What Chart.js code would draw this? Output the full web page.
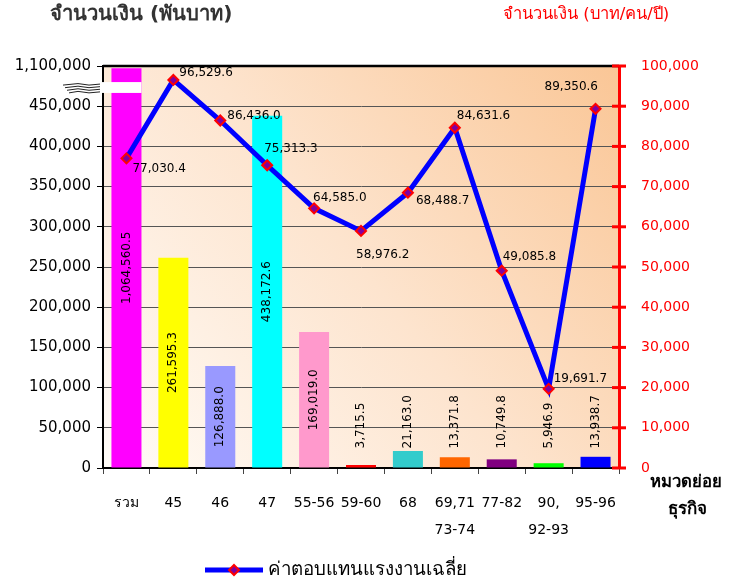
<!DOCTYPE html>
<html lang="th">
<head>
  <meta charset="UTF-8">
  <title>ค่าตอบแทนแรงงาน</title>
  <script src="https://cdn.jsdelivr.net/npm/chart.js"></script>
  <style>
    html, body { margin: 0; padding: 0; background: #fff; }
    #wrap { width: 735px; height: 581px; position: relative; }
  </style>
</head>
<body>
  <div id="wrap"><canvas id="chart" width="735" height="581"></canvas></div>

  <script>
    // data
    const categories = ['รวม', '45', '46', '47', '55-56', '59-60', '68', ['69,71', '73-74'], '77-82', ['90,', '92-93'], '95-96'];
    const barValues = [1064560.5, 261595.3, 126888.0, 438172.6, 169019.0, 3715.5, 21163.0, 13371.8, 10749.8, 5946.9, 13938.7];
    const barColors = ['#FF00FF', '#FFFF00', '#9999FF', '#00FFFF', '#FF99CC', '#FF0000', '#33CCCC', '#FF6600', '#800080', '#00FF00', '#0000FF'];
    const lineValues = [77030.4, 96529.6, 86436.0, 75313.3, 64585.0, 58976.2, 68488.7, 84631.6, 49085.8, 19691.7, 89350.6];
    const lineLabel = 'ค่าตอบแทนแรงงานเฉลี่ย';

    // broken left axis: 450,000 .. 1,100,000 squeezed into the last step
    const breakFrom = 450000;
    const breakTop = 1100000;
    const step = 50000;
    const brk = v => v <= breakFrom ? v : breakFrom + (v - breakFrom) / (breakTop - breakFrom) * step;

    const fmt = (v, d) => v.toLocaleString('en-US', { minimumFractionDigits: d, maximumFractionDigits: d });

    // where each line label sits relative to its point (dx, dy)
    const lineLabelOffsets = [[6, 11], [6, -7], [7, -5], [-3, -16], [-1, -10], [-5, 24], [8, 8], [2, -12], [1, -14], [5, -10], [-51, -22]];

    const FONT = '"DejaVu Sans", "Noto Sans", sans-serif';

    // draw text scaled so that it spans about `w` pixels
    function fitText(ctx, txt, x, y, w, weight) {
      ctx.font = weight + ' 20px ' + FONT;
      const size = 20 * w / ctx.measureText(txt).width;
      ctx.font = weight + ' ' + size.toFixed(1) + 'px ' + FONT;
      ctx.fillText(txt, x, y);
    }

    const decor = {
      id: 'decor',
      beforeDraw(chart) {
        const { ctx, chartArea: a } = chart;
        const g = ctx.createLinearGradient(a.left, a.bottom, a.right, a.top);
        g.addColorStop(0, '#FFFCF8');
        g.addColorStop(0.5, '#FDE4CE');
        g.addColorStop(1, '#FAC696');
        ctx.save();
        ctx.fillStyle = g;
        ctx.fillRect(a.left, a.top, a.right - a.left, a.bottom - a.top);
        ctx.restore();
      },
      afterDatasetsDraw(chart) {
        const { ctx, chartArea: a, scales } = chart;
        const yL = scales.y, y2 = scales.y2;
        ctx.save();

        // top border
        ctx.strokeStyle = '#000';
        ctx.lineWidth = 2.5;
        ctx.beginPath();
        ctx.moveTo(a.left, a.top);
        ctx.lineTo(a.right, a.top);
        ctx.stroke();

        // axis break on the total bar
        const barMeta = chart.getDatasetMeta(0);
        const b0 = barMeta.data[0];
        const yb1 = yL.getPixelForValue(480000);
        const yb2 = yL.getPixelForValue(466500);
        ctx.fillStyle = '#fff';
        ctx.fillRect(a.left - 2, yb1, b0.x + b0.width / 2 - a.left + 2, yb2 - yb1);
        ctx.strokeStyle = '#222';
        ctx.lineWidth = 1;
        for (let k = 0; k < 4; k++) {
          const yy = yb1 + 2 + k * 2.6;
          ctx.beginPath();
          ctx.moveTo(a.left - 40 + k * 2, yy + 1);
          ctx.lineTo(a.left - 25, yy - 0.5);
          ctx.lineTo(a.left - 14, yy + 1);
          ctx.lineTo(a.left - 3, yy);
          ctx.stroke();
        }

        // red cross ticks on the right axis
        ctx.strokeStyle = '#FF0000';
        ctx.lineWidth = 3;
        y2.ticks.forEach(t => {
          const yy = y2.getPixelForValue(t.value);
          ctx.beginPath();
          ctx.moveTo(a.right - 7, yy);
          ctx.lineTo(a.right + 7, yy);
          ctx.stroke();
        });

        // bar value labels, rotated
        ctx.fillStyle = '#000';
        ctx.font = '12px ' + FONT;
        ctx.textBaseline = 'middle';
        barMeta.data.forEach((bar, i) => {
          const txt = fmt(barValues[i], 1);
          const w = ctx.measureText(txt).width;
          const h = bar.base - bar.y;
          let cy;
          if (h > w + 8) {
            cy = (bar.y + bar.base) / 2;
          } else {
            const bottom = Math.min(bar.y - 2, bar.base - 19);
            cy = bottom - w / 2;
          }
          ctx.save();
          ctx.translate(bar.x, cy);
          ctx.rotate(-Math.PI / 2);
          ctx.textAlign = 'center';
          ctx.fillText(txt, 0, 0);
          ctx.restore();
        });

        // line value labels
        const lineMeta = chart.getDatasetMeta(1);
        ctx.textAlign = 'left';
        lineMeta.data.forEach((p, i) => {
          const [dx, dy] = lineLabelOffsets[i];
          ctx.fillText(fmt(lineValues[i], 1), p.x + dx, p.y + dy);
        });

        // axis titles
        ctx.textBaseline = 'middle';
        ctx.fillStyle = '#333';
        fitText(ctx, 'จำนวนเงิน (พันบาท)', 50, 15, 184, 'bold');
        ctx.fillStyle = '#FF0000';
        fitText(ctx, 'จำนวนเงิน (บาท/คน/ปี)', 503, 15, 170, 'normal');

        ctx.fillStyle = '#000';
        fitText(ctx, 'หมวดย่อย', 650, 483, 72, 'bold');
        fitText(ctx, 'ธุรกิจ', 668, 510, 40, 'bold');

        // legend
        const ly = 570;
        ctx.strokeStyle = '#0000FF';
        ctx.lineWidth = 5;
        ctx.beginPath();
        ctx.moveTo(205, ly);
        ctx.lineTo(263, ly);
        ctx.stroke();
        ctx.fillStyle = '#8000A0';
        ctx.strokeStyle = '#FF0000';
        ctx.lineWidth = 2;
        ctx.beginPath();
        ctx.moveTo(234, ly - 5);
        ctx.lineTo(239, ly);
        ctx.lineTo(234, ly + 5);
        ctx.lineTo(229, ly);
        ctx.closePath();
        ctx.fill();
        ctx.stroke();
        ctx.fillStyle = '#000';
        fitText(ctx, lineLabel, 268, ly, 202, 'normal');

        ctx.restore();
      }
    };

    new Chart(document.getElementById('chart'), {
      data: {
        labels: categories,
        datasets: [
          {
            type: 'bar',
            label: 'จำนวนเงิน',
            data: barValues.map(brk),
            backgroundColor: barColors,
            categoryPercentage: 1,
            barPercentage: 0.64,
            yAxisID: 'y',
            order: 2
          },
          {
            type: 'line',
            label: lineLabel,
            data: lineValues,
            borderColor: '#0000FF',
            borderWidth: 5,
            pointStyle: 'rectRot',
            pointRadius: 5,
            pointBackgroundColor: '#8000A0',
            pointBorderColor: '#FF0000',
            pointBorderWidth: 2,
            tension: 0,
            yAxisID: 'y2',
            order: 1
          }
        ]
      },
      options: {
        responsive: false,
        animation: false,
        layout: { padding: { top: 66, left: 0, right: 0, bottom: 0 } },
        plugins: {
          legend: { display: false },
          tooltip: { enabled: false }
        },
        scales: {
          x: {
            offset: true,
            grid: { drawOnChartArea: false, tickLength: 6, color: '#444', offset: true },
            border: { color: '#000', width: 2 },
            ticks: {
              color: '#000',
              font: { family: FONT, size: 14, lineHeight: 1.9 },
              padding: 16,
              maxRotation: 0,
              autoSkip: false
            },
            afterFit: s => { s.height = 113; }
          },
          y: {
            position: 'left',
            min: 0,
            max: 500000,
            grid: {
              color: c => (c.tick.value === 0 || c.tick.value === 500000) ? 'rgba(0,0,0,0)' : '#555',
              borderDash: [2, 2],
              tickColor: '#000',
              tickBorderDash: [],
              tickLength: 6
            },
            border: { color: '#000', width: 2 },
            ticks: {
              stepSize: step,
              color: '#000',
              font: { family: FONT, size: 15 },
              padding: 6,
              callback: v => v === 500000 ? fmt(breakTop, 0) : fmt(v, 0)
            },
            afterFit: s => { s.width = 103; }
          },
          y2: {
            position: 'right',
            min: 0,
            max: 100000,
            grid: { drawOnChartArea: false, drawTicks: false },
            border: { color: '#FF0000', width: 3 },
            ticks: {
              stepSize: 10000,
              color: '#FF0000',
              font: { family: FONT, size: 14 },
              padding: 22,
              callback: v => fmt(v, 0)
            },
            afterFit: s => { s.width = 116; }
          }
        }
      },
      plugins: [decor]
    });
  </script>
</body>
</html>
